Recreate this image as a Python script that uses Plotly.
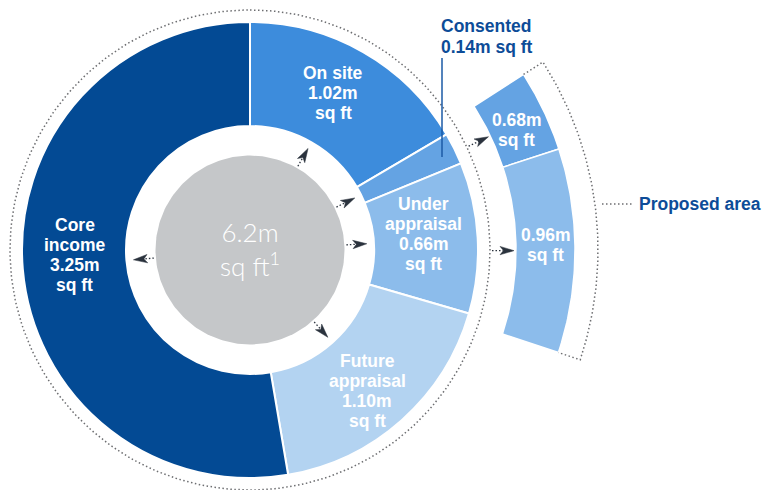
import numpy as np
import plotly.graph_objects as go

# ---------------- data ----------------
categories = ["On site", "Consented", "Under appraisal", "Future appraisal", "Core income"]
values = [1.02, 0.14, 0.66, 1.10, 3.25]          # m sq ft
category_words = [["On site"], ["Consented"], ["Under", "appraisal"],
                  ["Future", "appraisal"], ["Core", "income"]]
proposed_parents = ["Consented", "Under appraisal"]
proposed_values = [0.68, 0.96]                   # m sq ft
proposed_title = "Proposed area"
total_text = "6.2m"
unit = "sq ft"

# ---------------- style / geometry ----------------
W, H = 765, 490
CX, CY = 250, 250
R_OUT, R_IN = 228, 124
R_GRAY = 94.5
R_DOT = 240
R2_IN, R2_OUT = 266, 325
R_BRACKET = 348
PAD, SPLIT_SHIFT = 2.2, 4.2
HEAD_L, HEAD_W, HEAD_NOTCH = 14, 4.2, 3.5

seg_colors = ["#3d8cdc", "#64a3e3", "#8cbceb", "#b3d3f1", "#034a94"]
prop_colors = ["#64a3e3", "#8cbceb"]
gray = "#c5c7c9"
dot_col = "#6d6e71"
arrow_col = "#2a323d"
navy = "#0d4c98"
FONT = "Liberation Sans"
label_nudge = {"On site": (-4, -4), "Under appraisal": (-2, -7),
               "Future appraisal": (0, 10), "Core income": (0, -10)}
prop_nudge = [(0, 7), (0, -6)]


def pt(r, a):
    a = np.radians(a)
    return CX + r * np.sin(a), CY - r * np.cos(a)


total = sum(values)
cum = np.concatenate([[0], np.cumsum(values)]) / total * 360
starts, ends = cum[:-1], cum[1:]
mids = (starts + ends) / 2

fig = go.Figure()

# main donut (pie)
fig.add_trace(go.Pie(
    values=values, labels=categories, sort=False, direction="clockwise", rotation=0,
    hole=R_IN / R_OUT, textinfo="none", textposition="none", showlegend=False,
    hoverinfo="label+value",
    marker=dict(colors=seg_colors, line=dict(color="white", width=2)),
    domain=dict(x=[(CX - R_OUT) / W, (CX + R_OUT) / W],
                y=[(H - CY - R_OUT) / H, (H - CY + R_OUT) / H]),
))

# gray centre
t = np.linspace(0, 360, 241)
gx, gy = pt(R_GRAY, t)
fig.add_trace(go.Scatter(x=gx, y=gy, fill="toself", fillcolor=gray, mode="lines",
                         line=dict(width=0, color=gray), hoverinfo="skip"))

# dotted circle around donut
dx, dy = pt(R_DOT, t)
fig.add_trace(go.Scatter(x=dx, y=dy, mode="lines", hoverinfo="skip",
                         line=dict(color=dot_col, width=1.5, dash="1.5px,2.5px")))

# proposed ring
ic = categories.index(proposed_parents[0])
iu = categories.index(proposed_parents[1])
a0 = starts[ic] - PAD
asplit = ends[ic] + SPLIT_SHIFT
a1 = ends[iu] + PAD
bounds = [(a0, asplit), (asplit, a1)]
prop_mids = []
for (b0, b1), col, v in zip(bounds, prop_colors, proposed_values):
    aa = np.linspace(b0, b1, 60)
    ox, oy = pt(R2_OUT, aa)
    ix, iy = pt(R2_IN, aa[::-1])
    fig.add_trace(go.Scatter(x=np.concatenate([ox, ix, ox[:1]]), y=np.concatenate([oy, iy, oy[:1]]),
                             fill="toself", fillcolor=col, mode="lines",
                             line=dict(color="white", width=1.5), hoverinfo="text",
                             hovertext=f"{proposed_title}: {v:.2f}m {unit}"))
    prop_mids.append((b0 + b1) / 2)

# bracket around proposed ring
ab = np.linspace(a0, a1, 120)
bx, by = pt(R_BRACKET, ab)
sx, sy = pt(R2_OUT, a0)
ex, ey = pt(R2_OUT, a1)
fig.add_trace(go.Scatter(x=np.concatenate([[sx], bx, [ex]]), y=np.concatenate([[sy], by, [ey]]),
                         mode="lines", hoverinfo="skip",
                         line=dict(color=dot_col, width=1.5, dash="1.5px,2.5px")))
# connector to "Proposed area"
LBL_Y = 204
fig.add_trace(go.Scatter(x=[602, 633], y=[LBL_Y, LBL_Y], mode="lines", hoverinfo="skip",
                         line=dict(color=dot_col, width=1.5, dash="1.5px,2.5px")))

# pointer arrows (dotted tail + dart head)
arrow_specs = [(R_GRAY + 2, 117, m) for m in mids] + [(R_DOT + 2, 264, m) for m in prop_mids]
head_x, head_y = [], []
for r0, rt, a in arrow_specs:
    x0, y0 = pt(r0, a)
    x1, y1 = pt(rt - HEAD_L + HEAD_NOTCH, a)
    fig.add_trace(go.Scatter(x=[x0, x1], y=[y0, y1], mode="lines", hoverinfo="skip",
                             line=dict(color=arrow_col, width=1.3, dash="1.5px,2px")))
    ar = np.radians(a)
    u = np.array([np.sin(ar), -np.cos(ar)])
    v = np.array([np.cos(ar), np.sin(ar)])
    tip = np.array(pt(rt, a))
    pts = [tip, tip - HEAD_L * u + HEAD_W * v, tip - (HEAD_L - HEAD_NOTCH) * u,
           tip - HEAD_L * u - HEAD_W * v, tip]
    head_x += [p[0] for p in pts] + [None]
    head_y += [p[1] for p in pts] + [None]
fig.add_trace(go.Scatter(x=head_x, y=head_y, mode="lines", fill="toself", fillcolor=arrow_col,
                         line=dict(color=arrow_col, width=0.5), hoverinfo="skip"))


def text_block(lines, cx, cy, color="white", size=17.5, spacing=20, xanchor="center"):
    n = len(lines)
    for i, s in enumerate(lines):
        fig.add_annotation(x=cx, y=cy + (i - (n - 1) / 2) * spacing, text=s, showarrow=False,
                           xanchor=xanchor, yanchor="middle",
                           font=dict(family=FONT, size=size, color=color, weight="bold"))


# segment labels
r_lab = (R_IN + R_OUT) / 2
for cat, words, v, m in zip(categories, category_words, values, mids):
    if cat not in label_nudge:
        continue
    x, y = pt(r_lab, m)
    nx, ny = label_nudge[cat]
    text_block(words + [f"{v:.2f}m", unit], x + nx, y + ny)

# consented callout
ci = categories.index("Consented")
text_block([categories[ci], f"{values[ci]:.2f}m {unit}"], 439, 36.5, color=navy, spacing=21,
           xanchor="left")
fig.add_shape(type="line", xref="x", yref="y", x0=442, x1=442, y0=58, y1=157,
              line=dict(color="#1b5aa6", width=1.5), layer="above")

# proposed labels
r2_lab = (R2_IN + R2_OUT) / 2
for v, m, (nx, ny) in zip(proposed_values, prop_mids, prop_nudge):
    x, y = pt(r2_lab, m)
    text_block([f"{v:.2f}m", unit], x + nx, y + ny)

fig.add_annotation(x=637, y=LBL_Y, text=proposed_title, showarrow=False, xanchor="left",
                   yanchor="middle", font=dict(family=FONT, size=17.5, color=navy, weight="bold"))

# centre total
fig.add_annotation(x=CX, y=249, text=f"{total_text}<br>{unit}<sup>1</sup>", showarrow=False,
                   xanchor="center", yanchor="middle", align="center",
                   font=dict(family="Lato", size=26, color="white", weight=300))

fig.update_layout(
    width=W, height=H, margin=dict(l=0, r=0, t=0, b=0),
    paper_bgcolor="white", plot_bgcolor="white", showlegend=False,
    xaxis=dict(range=[0, W], visible=False, fixedrange=True),
    yaxis=dict(range=[H, 0], visible=False, fixedrange=True),
)

fig.write_html("out.html")
